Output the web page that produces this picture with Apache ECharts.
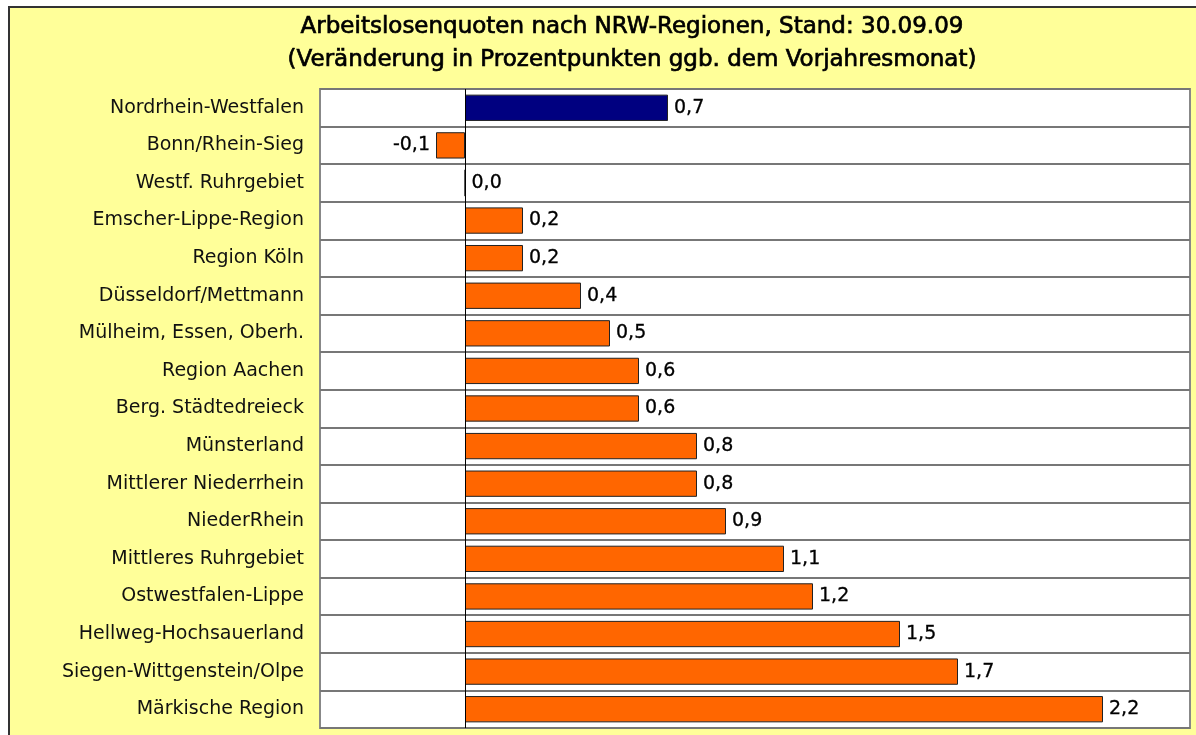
<!DOCTYPE html>
<html>
<head>
<meta charset="utf-8">
<script src="https://cdn.jsdelivr.net/npm/echarts@6/dist/echarts.min.js"></script>
<style>
html,body{margin:0;padding:0;background:#fff;width:1196px;height:735px;overflow:hidden;}
#frame{position:absolute;left:8px;top:6px;width:1188px;height:729px;background:#FFFF99;border-left:2px solid #333;border-top:2px solid #333;box-sizing:border-box;}
#chart{position:absolute;left:0;top:0;width:1196px;height:735px;}
</style>
</head>
<body>
<div id="frame"></div>
<div id="chart"></div>
<script>
const titleLines = ["Arbeitslosenquoten nach NRW-Regionen, Stand: 30.09.09", "(Veränderung in Prozentpunkten ggb. dem Vorjahresmonat)"];
const categories = ["Nordrhein-Westfalen","Bonn/Rhein-Sieg","Westf. Ruhrgebiet","Emscher-Lippe-Region","Region Köln","Düsseldorf/Mettmann","Mülheim, Essen, Oberh.","Region Aachen","Berg. Städtedreieck","Münsterland","Mittlerer Niederrhein","NiederRhein","Mittleres Ruhrgebiet","Ostwestfalen-Lippe","Hellweg-Hochsauerland","Siegen-Wittgenstein/Olpe","Märkische Region"];
const values = [0.7,-0.1,0.0,0.2,0.2,0.4,0.5,0.6,0.6,0.8,0.8,0.9,1.1,1.2,1.5,1.7,2.2];
const highlightIndex = 0;

const FONT = "DejaVu Sans";
const chart = echarts.init(document.getElementById('chart'), null, {renderer:'canvas'});
const data = values.map((v,i)=>({
  value: v,
  itemStyle: {color: i===highlightIndex ? '#000080' : '#FF6600'},
  label: {position: v < 0 ? 'left' : 'right'}
}));
chart.setOption({
  backgroundColor: 'transparent',
  animation: false,
  title: {
    text: titleLines.join('\n'),
    left: 627, top: 6, textAlign: 'center',
    textStyle: {fontFamily: FONT, fontSize: 23, fontWeight: 'normal', color: '#000', lineHeight: 33,
      textBorderColor:'#000', textBorderWidth:0.7}
  },
  grid: {left: 320, right: 6, top: 89, bottom: 7, show: true, backgroundColor: '#fff', borderColor: '#888', borderWidth: 2},
  xAxis: {
    type: 'value', min: -0.5, max: 2.5,
    axisLabel: {show: false}, axisLine: {show: false}, axisTick: {show: false}, splitLine: {show: false}
  },
  yAxis: {
    type: 'category', data: categories, inverse: true,
    axisLine: {show: false}, axisTick: {show: false},
    axisLabel: {fontFamily: FONT, fontSize: 19, color: '#111', margin: 16},
    splitLine: {show: true, lineStyle: {color: '#777', width: 2}}
  },
  series: [{
    type: 'bar', data: data, barCategoryGap: '30%',
    itemStyle: {borderColor: '#222', borderWidth: 1},
    label: {show: true, fontFamily: FONT, fontSize: 19, color: '#000', distance: 6,
      textBorderColor:'#000', textBorderWidth:0.3,
      formatter: p => p.value.toFixed(1).replace('.', ',')},
    markLine: {silent: true, symbol: 'none', label: {show: false},
      lineStyle: {color: '#000', width: 1, type: 'solid'}, data: [{xAxis: 0}]}
  }]
});
</script>
</body>
</html>
